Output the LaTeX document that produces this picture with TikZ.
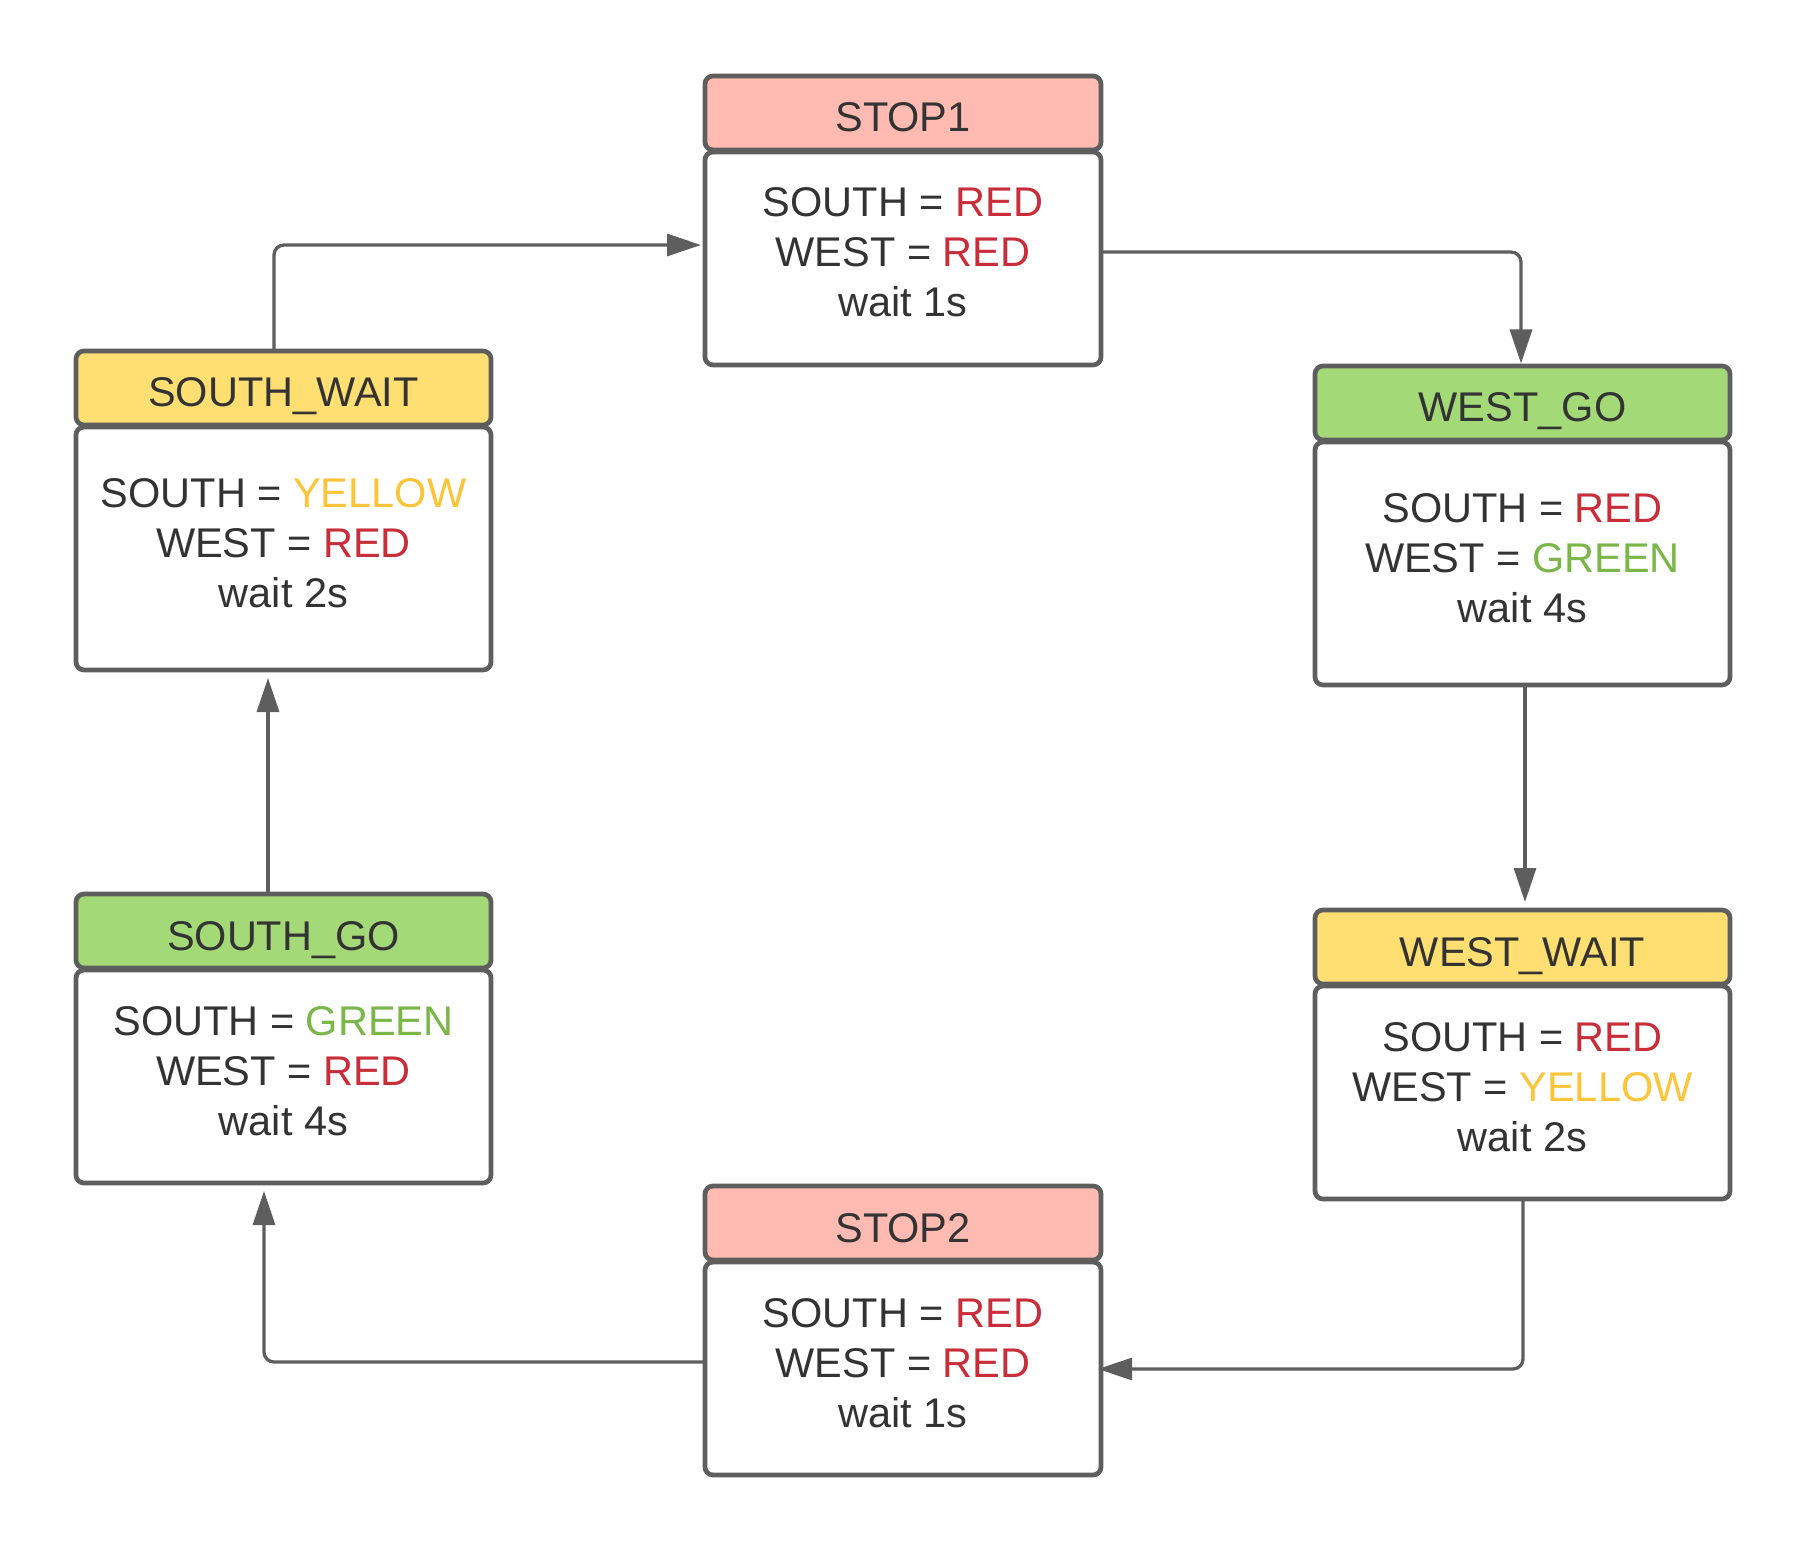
\documentclass[tikz,border=0pt]{standalone}
\usepackage{fontspec}
\setmainfont{Liberation Sans}
\usetikzlibrary{arrows.meta,calc}
\definecolor{bord}{HTML}{5E5E5E}
\definecolor{ink}{HTML}{333333}
\definecolor{cred}{HTML}{C92D39}
\definecolor{cyel}{HTML}{FCC438}
\definecolor{cgrn}{HTML}{7AB648}
\definecolor{fred}{HTML}{FFBBB1}
\definecolor{fyel}{HTML}{FFDF71}
\definecolor{fgrn}{HTML}{A3D977}
\tikzset{
  box/.style={draw=bord, line width=2.35pt, rounded corners=4pt, inner sep=0pt, outer sep=0pt,
    anchor=north west, text=ink, font=\fontsize{20.75pt}{25pt}\selectfont},
  hdr/.style={box, minimum height=37pt, text height=19pt, text depth=0pt},
  shortbody/.style={box, fill=white, minimum height=106.5pt},
  tallbody/.style={box, fill=white, minimum height=121.5pt},
  narrowbox/.style={minimum width=198pt},
  widebox/.style={minimum width=207.5pt},
  txt/.style={anchor=base, inner sep=0pt, text=ink, font=\fontsize{20.75pt}{25pt}\selectfont},
  conn/.style={draw=bord, line width=1.65pt, rounded corners=5pt, -{Triangle[length=17pt,width=11pt]}}
}
\begin{document}
\begin{tikzpicture}[x=0.5pt,y=-0.5pt]
\useasboundingbox (0,0) rectangle (1804,1551);

% STOP1
\node[hdr, narrowbox, fill=fred] (s1h) at (705,76) {STOP1};
\node[shortbody, narrowbox] (s1b) at (705,152) {};
\node[txt] (s1a) at ($(s1b.center)+(0,-41.5)$) {SOUTH = \textcolor{cred}{RED}};
\node[txt] (s1c) at ($(s1b.center)+(0,8.5)$) {WEST = \textcolor{cred}{RED}};
\node[txt] (s1d) at ($(s1b.center)+(0,58.5)$) {wait 1s};

% SOUTH_WAIT
\node[hdr, widebox, fill=fyel] (swh) at (76,351) {SOUTH\_WAIT};
\node[tallbody, widebox] (swb) at (76,427) {};
\node[txt] (swa) at ($(swb.center)+(0,-41.5)$) {SOUTH = \textcolor{cyel}{YELLOW}};
\node[txt] (swc) at ($(swb.center)+(0,8.5)$) {WEST = \textcolor{cred}{RED}};
\node[txt] (swd) at ($(swb.center)+(0,58.5)$) {wait 2s};

% WEST_GO
\node[hdr, widebox, fill=fgrn] (wgh) at (1315,366) {WEST\_GO};
\node[tallbody, widebox] (wgb) at (1315,442) {};
\node[txt] (wga) at ($(wgb.center)+(0,-41.5)$) {SOUTH = \textcolor{cred}{RED}};
\node[txt] (wgc) at ($(wgb.center)+(0,8.5)$) {WEST = \textcolor{cgrn}{GREEN}};
\node[txt] (wgd) at ($(wgb.center)+(0,58.5)$) {wait 4s};

% WEST_WAIT
\node[hdr, widebox, fill=fyel] (wwh) at (1315,910) {WEST\_WAIT};
\node[shortbody, widebox] (wwb) at (1315,986) {};
\node[txt] (wwa) at ($(wwb.center)+(0,-41.5)$) {SOUTH = \textcolor{cred}{RED}};
\node[txt] (wwc) at ($(wwb.center)+(0,8.5)$) {WEST = \textcolor{cyel}{YELLOW}};
\node[txt] (wwd) at ($(wwb.center)+(0,58.5)$) {wait 2s};

% STOP2
\node[hdr, narrowbox, fill=fred] (s2h) at (705,1186) {STOP2};
\node[shortbody, narrowbox] (s2b) at (705,1262) {};
\node[txt] (s2a) at ($(s2b.center)+(0,-41.5)$) {SOUTH = \textcolor{cred}{RED}};
\node[txt] (s2c) at ($(s2b.center)+(0,8.5)$) {WEST = \textcolor{cred}{RED}};
\node[txt] (s2d) at ($(s2b.center)+(0,58.5)$) {wait 1s};

% SOUTH_GO
\node[hdr, widebox, fill=fgrn] (sgh) at (76,894) {SOUTH\_GO};
\node[shortbody, widebox] (sgb) at (76,970) {};
\node[txt] (sga) at ($(sgb.center)+(0,-41.5)$) {SOUTH = \textcolor{cgrn}{GREEN}};
\node[txt] (sgc) at ($(sgb.center)+(0,8.5)$) {WEST = \textcolor{cred}{RED}};
\node[txt] (sgd) at ($(sgb.center)+(0,58.5)$) {wait 4s};

% connectors
\draw[conn] ($(swh.north)+(-9.5,0)$) |- ($(s1b.west)+(-4,-13.5)$);
\draw[conn] ($(s1b.east)+(0,-6.5)$) -| ($(wgh.north)+(-1.5,-2.5)$);
\draw[conn] ($(wgb.south)+(2.5,0)$) -- ($(wwh.north)+(2.5,-8)$);
\draw[conn] ($(wwb.south)+(0.5,0)$) |- ($(s2b.east)+(-3,0.5)$);
\draw[conn] ($(s2b.west)+(0,-6.5)$) -| ($(sgb.south)+(-19.5,8)$);
\draw[conn] ($(sgh.north)+(-15.5,0)$) -- ($(swb.south)+(-15.5,8)$);
\end{tikzpicture}
\end{document}
